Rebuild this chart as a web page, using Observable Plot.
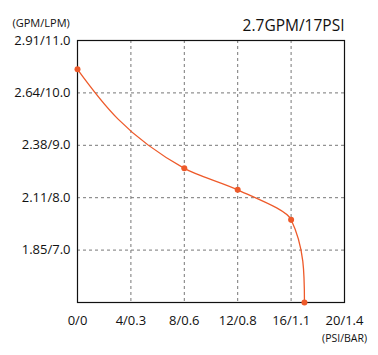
<!DOCTYPE html>
<html>
<head>
<meta charset="utf-8">
<script src="https://cdn.jsdelivr.net/npm/d3@7"></script>
<script src="https://cdn.jsdelivr.net/npm/@observablehq/plot@0.6"></script>
<style>
  html, body { margin: 0; padding: 0; background: #fff; }
  #chart svg { display: block; }
</style>
</head>
<body>
<div id="chart"></div>
<script>
// Data (pressure in PSI, flow in LPM)
const psi = [0, 8, 12, 16, 17];
const lpm = [10.45, 8.56, 8.15, 7.58, 6.0];

// Tick labels
const xTicks = [0, 4, 8, 12, 16, 20];
const xTickLabels = ["0/0", "4/0.3", "8/0.6", "12/0.8", "16/1.1", "20/1.4"];
const yTicks = [7, 8, 9, 10, 11];
const yTickLabels = ["1.85/7.0", "2.11/8.0", "2.38/9.0", "2.64/10.0", "2.91/11.0"];

const title = "2.7GPM/17PSI";
const yUnit = "(GPM/LPM)";
const xUnit = "(PSI/BAR)";

const data = psi.map((p, i) => ({psi: p, lpm: lpm[i]}));
const color = "#ee5a2a";
const font = "'Open Sans', 'Noto Sans', sans-serif";

// Smooth cubic Hermite curve with x as a function of screen y (vertical end tangent)
function smoothY(context) {
  let pts = [];
  return {
    areaStart() {}, areaEnd() {},
    lineStart() { pts = []; },
    point(x, y) { pts.push([+x, +y]); },
    lineEnd() {
      const n = pts.length;
      if (!n) return;
      context.moveTo(pts[0][0], pts[0][1]);
      if (n === 1) return;
      const h = [], s = [];
      for (let i = 0; i < n - 1; i++) {
        h.push(pts[i + 1][1] - pts[i][1]);
        s.push((pts[i + 1][0] - pts[i][0]) / h[i]);
      }
      const m = new Array(n);
      for (let i = 1; i < n - 1; i++) {
        const a = s[i - 1], b = s[i];
        if (Math.sign(a) !== Math.sign(b)) { m[i] = 0; continue; }
        const avg = (a + b) / 2;
        m[i] = Math.sign(avg) * Math.min(Math.abs(avg), 3 * Math.abs(a), 3 * Math.abs(b));
      }
      if (n === 2) { m[0] = m[1] = s[0]; }
      else {
        m[0] = (3 * s[0] - m[1]) / 2;
        m[n - 1] = (3 * s[n - 2] - m[n - 2]) / 2;
        if (Math.sign(m[0]) !== Math.sign(s[0])) m[0] = 0;
        if (Math.sign(m[n - 1]) !== Math.sign(s[n - 2])) m[n - 1] = 0;
      }
      for (let i = 0; i < n - 1; i++) {
        const [x0, y0] = pts[i], [x1, y1] = pts[i + 1], d = h[i] / 3;
        context.bezierCurveTo(x0 + d * m[i], y0 + d, x1 - d * m[i + 1], y1 - d, x1, y1);
      }
    }
  };
}

const chart = Plot.plot({
  width: 378,
  height: 355,
  marginLeft: 77,
  marginRight: 34,
  marginTop: 40,
  marginBottom: 53,
  style: {fontFamily: font, fontSize: "13px", background: "#fff", overflow: "visible"},
  x: {domain: [0, 20], label: null},
  y: {domain: [6, 11], label: null},
  marks: [
    Plot.gridX(xTicks.filter(d => d > 0 && d < 20), {stroke: "#777", strokeOpacity: 1, strokeDasharray: "3,3", strokeWidth: 1}),
    Plot.gridY(yTicks.filter(d => d > 6 && d < 11), {stroke: "#777", strokeOpacity: 1, strokeDasharray: "3,3", strokeWidth: 1}),
    Plot.frame({stroke: "#111", strokeWidth: 1.2}),
    Plot.line(data, {x: "psi", y: "lpm", stroke: color, strokeWidth: 1.3, curve: smoothY}),
    Plot.dot(data, {x: "psi", y: "lpm", r: 3, fill: color}),
    Plot.axisX({ticks: xTicks, tickFormat: d => xTickLabels[xTicks.indexOf(d)], tickSize: 0, tickPadding: 13, fontSize: 13, fill: "#111", label: null}),
    Plot.axisY({ticks: yTicks, tickFormat: d => yTickLabels[yTicks.indexOf(d)], tickSize: 0, tickPadding: 7, fontSize: 13, fill: "#111", label: null}),
    Plot.text([title], {frameAnchor: "top-right", dy: -21, text: d => d, fontSize: 15.5, fill: "#111", textAnchor: "end"}),
    Plot.text([yUnit], {frameAnchor: "top-left", dx: -65, dy: -21, text: d => d, fontSize: 11, fill: "#111", textAnchor: "start"}),
    Plot.text([xUnit], {frameAnchor: "bottom-right", dy: 39, dx: 0, text: d => d, fontSize: 10.5, fill: "#111", textAnchor: "middle"})
  ]
});
document.getElementById("chart").appendChild(chart);
</script>
</body>
</html>
